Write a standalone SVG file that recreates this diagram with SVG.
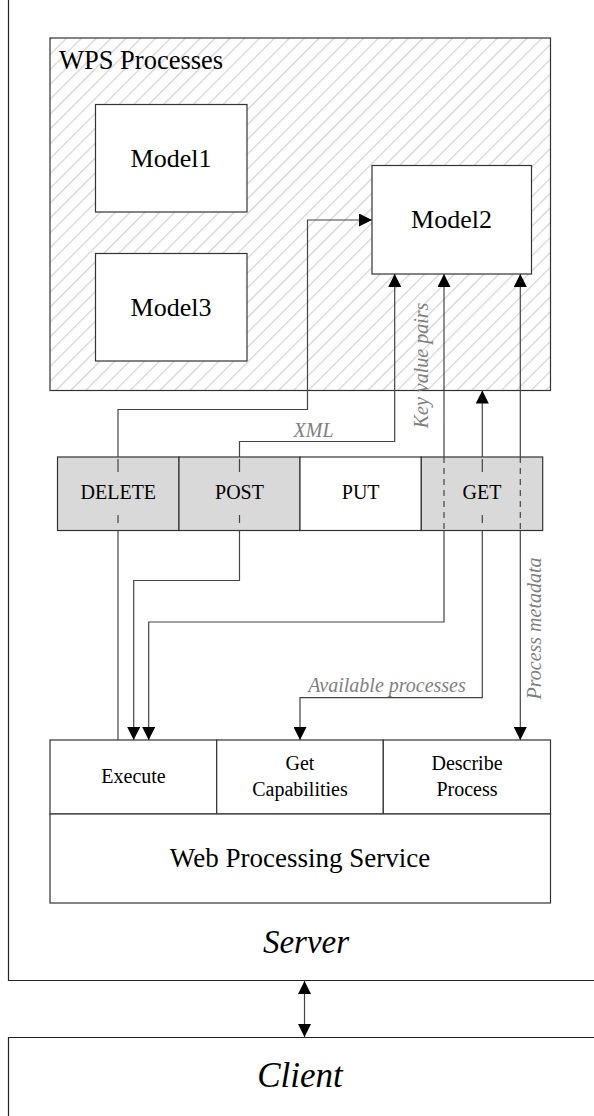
<svg xmlns="http://www.w3.org/2000/svg" width="594" height="1116" viewBox="0 0 594 1116">
  <style>
    .box { fill: #ffffff; stroke: #333333; stroke-width: 1.2; }
    .verb { fill: #d9d9d9; stroke: #333333; stroke-width: 1.2; }
    .frame { fill: none; stroke: #222222; stroke-width: 1.2; }
    .t { font-family: "Liberation Serif", "Times New Roman", serif; fill: #000000; text-anchor: middle; }
    .lbl { font-family: "Liberation Serif", "Times New Roman", serif; font-style: italic; fill: #7f7f7f; font-size: 20px; text-anchor: middle; }
    .wire { fill: none; stroke: #444444; stroke-width: 1.2; }
    .dash { fill: none; stroke: #444444; stroke-width: 1.2; stroke-dasharray: 6 5; }
  </style>
  <defs>
    <pattern id="hatch" patternUnits="userSpaceOnUse" width="10.5" height="10.5" patternTransform="rotate(45)">
      <line x1="0" y1="0" x2="0" y2="10.5" stroke="#d2d2d2" stroke-width="2.4"/>
    </pattern>
    <marker id="arr" markerUnits="userSpaceOnUse" markerWidth="13" markerHeight="13" refX="13" refY="6.5" orient="auto-start-reverse" viewBox="0 0 13 13">
      <path d="M0,0 L13,6.5 L0,13 z" fill="#000000"/>
    </marker>
  </defs>

  <rect width="594" height="1116" fill="#ffffff"/>

  <!-- server frame -->
  <g id="server">
    <path class="frame" d="M8.5,0 V980.5 H594"/>
    <text class="t" x="306" y="953" font-size="33" font-style="italic">Server</text>
  </g>

  <!-- client frame -->
  <g id="client">
    <path class="frame" d="M594,1037.5 H8.5 V1116"/>
    <text class="t" x="300" y="1087" font-size="35" font-style="italic">Client</text>
  </g>

  <!-- process container -->
  <g id="wps-processes">
    <rect x="50" y="38" width="500.5" height="352.5" fill="#ffffff"/>
    <rect x="50" y="38" width="500.5" height="352.5" fill="url(#hatch)" stroke="#333333" stroke-width="1.2"/>
    <text x="59" y="69" font-family="Liberation Serif, Times New Roman, serif" font-size="26.5">WPS Processes</text>
  </g>

  <g id="model1">
    <rect class="box" x="95.5" y="104.5" width="151.5" height="107.5"/>
    <text class="t" x="171" y="167" font-size="26">Model1</text>
  </g>
  <g id="model3">
    <rect class="box" x="95.5" y="253.5" width="151.5" height="107.5"/>
    <text class="t" x="171" y="316" font-size="26">Model3</text>
  </g>
  <g id="model2">
    <rect class="box" x="372" y="165.5" width="159.5" height="108.5"/>
    <text class="t" x="451.5" y="228" font-size="26">Model2</text>
  </g>

  <!-- HTTP verbs -->
  <g id="verb-delete">
    <rect class="verb" x="57.5" y="457" width="121.5" height="73.5"/>
    <text class="t" x="118.3" y="499" font-size="20">DELETE</text>
  </g>
  <g id="verb-post">
    <rect class="verb" x="179" y="457" width="121" height="73.5"/>
    <text class="t" x="239.5" y="499" font-size="20">POST</text>
  </g>
  <g id="verb-put">
    <rect class="box" x="300" y="457" width="121.3" height="73.5"/>
    <text class="t" x="360.7" y="499" font-size="20">PUT</text>
  </g>
  <g id="verb-get">
    <rect class="verb" x="421.3" y="457" width="121.4" height="73.5"/>
    <text class="t" x="482" y="499" font-size="20">GET</text>
  </g>

  <!-- WPS operations -->
  <g id="op-execute">
    <rect class="box" x="50" y="740" width="166.7" height="74"/>
    <text class="t" x="133.5" y="783" font-size="20">Execute</text>
  </g>
  <g id="op-getcapabilities">
    <rect class="box" x="216.7" y="740" width="166.6" height="74"/>
    <text class="t" x="300" y="770" font-size="20">Get</text>
    <text class="t" x="300" y="796" font-size="20">Capabilities</text>
  </g>
  <g id="op-describeprocess">
    <rect class="box" x="383.3" y="740" width="167.2" height="74"/>
    <text class="t" x="467" y="770" font-size="20">Describe</text>
    <text class="t" x="467" y="796" font-size="20">Process</text>
  </g>
  <g id="wps-service">
    <rect class="box" x="50" y="814" width="500.5" height="89"/>
    <text class="t" x="300" y="867" font-size="27">Web Processing Service</text>
  </g>

  <!-- connectors -->
  <g id="connectors">
    <!-- DELETE: Execute to Model2 -->
    <path class="wire" d="M118,740 V530.5"/>
    <path class="wire" d="M118,523 V515 M118,472 V459"/>
    <path class="wire" d="M118,457 V409.5 H307.5 V220 H372" marker-end="url(#arr)"/>
    <!-- POST: Execute and Model2, XML -->
    <path class="wire" d="M133.7,740 V580.5 H239.5 V530.5" marker-start="url(#arr)"/>
    <path class="wire" d="M239.5,523 V515 M239.5,472 V459"/>
    <path class="wire" d="M239.5,457 V441.5 H394.7 V274" marker-end="url(#arr)"/>
    <text class="lbl" x="313.5" y="437">XML</text>
    <!-- key value pairs: Execute and Model2 -->
    <path class="wire" d="M148.7,740 V622 H444 V530.5" marker-start="url(#arr)"/>
    <path class="dash" d="M444,457 V530.5"/>
    <path class="wire" d="M444,457 V274" marker-end="url(#arr)"/>
    <text class="lbl" transform="translate(428 365.5) rotate(-90)">Key value pairs</text>
    <!-- GET: GetCapabilities and process container -->
    <path class="wire" d="M300,740 V697.7 H482.3 V530.5" marker-start="url(#arr)"/>
    <path class="wire" d="M482.3,523 V515 M482.3,472 V459"/>
    <path class="wire" d="M482.3,457 V390.5" marker-end="url(#arr)"/>
    <text class="lbl" x="387" y="691.5">Available processes</text>
    <!-- DescribeProcess and Model2 -->
    <path class="wire" d="M520.3,740 V530.5" marker-start="url(#arr)"/>
    <path class="dash" d="M520.3,457 V530.5"/>
    <path class="wire" d="M520.3,457 V274" marker-end="url(#arr)"/>
    <text class="lbl" transform="translate(540.5 628.5) rotate(-90)">Process metadata</text>
    <!-- server and client -->
    <path class="wire" d="M304.5,981 V1037" marker-start="url(#arr)" marker-end="url(#arr)"/>
  </g>
</svg>
